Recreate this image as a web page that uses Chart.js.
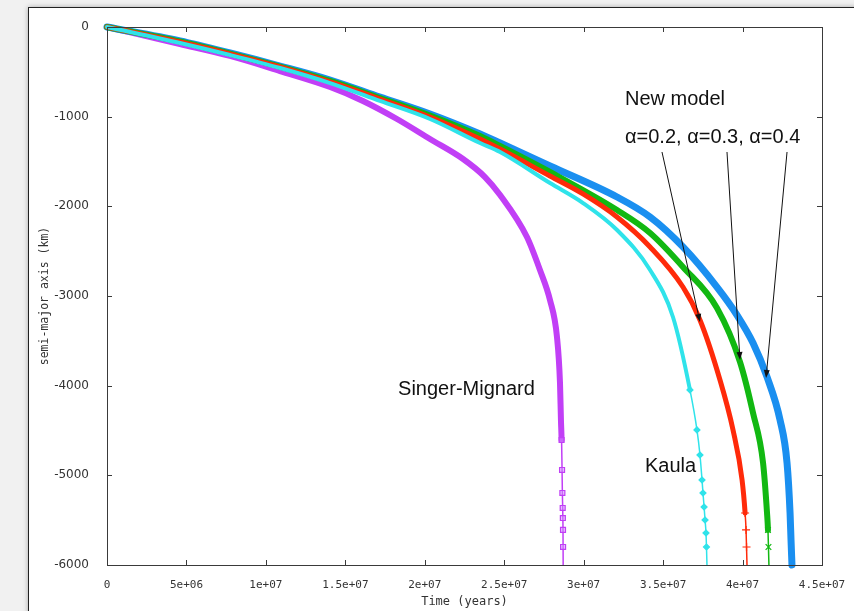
<!DOCTYPE html>
<html><head><meta charset="utf-8">
<script src="https://cdn.jsdelivr.net/npm/chart.js@4.4.0/dist/chart.umd.min.js"></script>
<style>
html,body{margin:0;padding:0;width:854px;height:611px;overflow:hidden;background:#f1f1f1;}
#frame{position:absolute;left:28px;top:7px;width:900px;height:700px;background:#fff;border:1px solid #222;box-shadow:0 0 5px rgba(0,0,0,0.3);}
#wrap{position:absolute;left:0;top:0;width:854px;height:611px;}
</style></head><body>
<div id="frame"></div>
<div id="wrap"><canvas id="c" width="854" height="611"></canvas></div>
<script>
// ---- tick values / labels ----
const xTickValues = [0, 5e6, 1e7, 1.5e7, 2e7, 2.5e7, 3e7, 3.5e7, 4e7, 4.5e7];
const xTickLabels = ['0','5e+06','1e+07','1.5e+07','2e+07','2.5e+07','3e+07','3.5e+07','4e+07','4.5e+07'];
const yTickValues = [0, -1000, -2000, -3000, -4000, -5000, -6000];
const yTickLabels = ['0','-1000','-2000','-3000','-4000','-5000','-6000'];

// ---- series (time in years, semi-major axis change in km) ----
const smT = [0,4.595e6,7.742e6,1.089e7,1.404e7,1.611e7,1.825e7,2.033e7,2.241e7,2.379e7,2.474e7,2.643e7,2.725e7,2.788e7,2.832e7,2.851e7,2.857e7,2.861e7,2.864e7,2.866e7,2.868e7,2.869e7,2.870e7,2.8705e7,2.871e7];
const smA = [0,-190,-323,-491,-669,-825,-1026,-1249,-1472,-1673,-1874,-2342,-2710,-3045,-3457,-3970,-4383,-4606,-4940,-5197,-5364,-5476,-5609,-5799,-6000];

const kaT = [0,4.595e6,7.742e6,1.089e7,1.404e7,1.718e7,2.033e7,2.348e7,2.474e7,2.788e7,2.996e7,3.210e7,3.418e7,3.562e7,3.669e7,3.713e7,3.732e7,3.745e7,3.751e7,3.758e7,3.764e7,3.770e7,3.773e7,3.776e7];
const kaA = [0,-178,-312,-457,-625,-825,-1026,-1294,-1394,-1740,-1963,-2264,-2710,-3234,-4048,-4494,-4773,-5052,-5197,-5353,-5498,-5643,-5799,-6000];

const a2T = [0,4.595e6,7.742e6,1.089e7,1.404e7,1.718e7,2.033e7,2.348e7,2.474e7,2.788e7,2.996e7,3.210e7,3.418e7,3.625e7,3.732e7,3.858e7,3.940e7,3.997e7,4.016e7,4.022e7,4.025e7,4.028e7];
const a2A = [0,-167,-301,-446,-613,-803,-1004,-1249,-1361,-1662,-1862,-2119,-2453,-2900,-3268,-3937,-4494,-5052,-5420,-5609,-5799,-6000];

const a3T = [0,4.595e6,7.742e6,1.089e7,1.404e7,1.718e7,2.033e7,2.348e7,2.474e7,2.788e7,3.210e7,3.418e7,3.625e7,3.839e7,3.984e7,4.066e7,4.129e7,4.154e7,4.160e7,4.163e7,4.166e7];
const a3A = [0,-162,-296,-441,-602,-792,-987,-1216,-1327,-1617,-2041,-2297,-2676,-3134,-3736,-4305,-4862,-5420,-5609,-5799,-6000];

const a4T = [0,4.595e6,7.742e6,1.089e7,1.404e7,1.718e7,2.033e7,2.348e7,2.474e7,2.788e7,3.210e7,3.418e7,3.625e7,3.839e7,3.965e7,4.066e7,4.154e7,4.236e7,4.280e7,4.299e7,4.305e7,4.311e7];
const a4A = [0,-156,-290,-435,-591,-781,-970,-1193,-1294,-1550,-1896,-2119,-2453,-2900,-3212,-3524,-3903,-4383,-4862,-5420,-5721,-6000];

const toXY = (t, a) => t.map((v, i) => ({x: v, y: a[i]}));

// ---- annotations (data coordinates) ----
const notes = [
  {text: 'New model', t: 3.26e7, a: -803},
  {text: 'α=0.2, α=0.3, α=0.4', t: 3.26e7, a: -1227},
  {text: 'Singer-Mignard', t: 1.832e7, a: -4040},
  {text: 'Kaula', t: 3.386e7, a: -4896}
];
const arrows = [
  {t0: 3.493e7, a0: -1394, t1: 3.732e7, a1: -3290},
  {t0: 3.902e7, a0: -1394, t1: 3.984e7, a1: -3714},
  {t0: 4.28e7,  a0: -1394, t1: 4.148e7, a1: -3914}
];

function mk(label, t, a, color, thick, thinBelow, pstyle, pbg, prad) {
  const n = t.length;
  return {
    label, data: toXY(t, a), borderColor: color, backgroundColor: color,
    borderWidth: thick, cubicInterpolationMode: 'monotone', fill: false, clip: 4,
    borderJoinStyle: 'round', borderCapStyle: 'round',
    segment: { borderWidth: ctx => ctx.p0.parsed.y <= thinBelow ? 1.5 : thick },
    pointStyle: pstyle, pointBackgroundColor: pbg, pointBorderColor: color, pointBorderWidth: 1.2,
    pointRadius: ctx => (ctx.raw && ctx.raw.y <= thinBelow && ctx.dataIndex < n - 1) ? prad : 0,
    pointHoverRadius: 0
  };
}

const datasets = [
  mk('Kaula', kaT, kaA, '#2fe3ea', 4, -4000, 'rectRot', '#2fe3ea', 3),
  mk('α=0.2', a2T, a2A, '#ff2a0a', 5, -5350, 'cross', '#ff2a0a', 4),
  mk('α=0.3', a3T, a3A, '#12b812', 6, -5500, 'crossRot', '#12b812', 4),
  mk('α=0.4', a4T, a4A, '#1a8ff0', 7, -99999, 'triangle', '#1a8ff0', 4),
  mk('Singer-Mignard', smT, smA, '#c13ff6', 6, -4550, 'rect', 'rgba(210,140,255,0.5)', 3.5)
];

const decor = {
  id: 'decor',
  afterDatasetsDraw(chart) {
    const {ctx, chartArea: ca, scales: {x, y}} = chart;
    ctx.save();
    ctx.strokeStyle = '#3a3a3a'; ctx.lineWidth = 1;
    ctx.strokeRect(Math.round(ca.left) + 0.5, Math.round(ca.top) + 0.5, Math.round(ca.right - ca.left), Math.round(ca.bottom - ca.top));
    ctx.beginPath();
    const L = 5;
    xTickValues.forEach(v => {
      const px = Math.round(x.getPixelForValue(v)) + 0.5;
      ctx.moveTo(px, ca.bottom); ctx.lineTo(px, ca.bottom - L);
      ctx.moveTo(px, ca.top); ctx.lineTo(px, ca.top + L);
    });
    yTickValues.forEach(v => {
      const py = Math.round(y.getPixelForValue(v)) + 0.5;
      ctx.moveTo(ca.left, py); ctx.lineTo(ca.left + L, py);
      ctx.moveTo(ca.right, py); ctx.lineTo(ca.right - L, py);
    });
    ctx.stroke();
    ctx.strokeStyle = '#111'; ctx.fillStyle = '#111'; ctx.lineWidth = 1;
    arrows.forEach(ar => {
      const x0 = x.getPixelForValue(ar.t0), y0 = y.getPixelForValue(ar.a0);
      const x1 = x.getPixelForValue(ar.t1), y1 = y.getPixelForValue(ar.a1);
      const ang = Math.atan2(y1 - y0, x1 - x0);
      const hl = 8, hw = 3;
      ctx.beginPath(); ctx.moveTo(x0, y0); ctx.lineTo(x1 - hl * Math.cos(ang), y1 - hl * Math.sin(ang)); ctx.stroke();
      ctx.beginPath();
      ctx.moveTo(x1, y1);
      ctx.lineTo(x1 - hl * Math.cos(ang) + hw * Math.sin(ang), y1 - hl * Math.sin(ang) - hw * Math.cos(ang));
      ctx.lineTo(x1 - hl * Math.cos(ang) - hw * Math.sin(ang), y1 - hl * Math.sin(ang) + hw * Math.cos(ang));
      ctx.closePath(); ctx.fill();
    });
    ctx.font = '20px "Liberation Sans", Arial, sans-serif';
    ctx.fillStyle = '#111'; ctx.textAlign = 'left'; ctx.textBaseline = 'middle';
    notes.forEach(n => ctx.fillText(n.text, x.getPixelForValue(n.t), y.getPixelForValue(n.a)));
    ctx.restore();
  }
};

new Chart(document.getElementById('c'), {
  type: 'line',
  data: { datasets },
  options: {
    responsive: false, animation: false, devicePixelRatio: 1,
    layout: { padding: { left: 0, right: 32, top: 27, bottom: 0 } },
    plugins: { legend: { display: false }, tooltip: { enabled: false } },
    scales: {
      x: {
        type: 'linear', min: 0, max: 4.5e7,
        afterBuildTicks: s => { s.ticks = xTickValues.map(v => ({value: v})); },
        afterFit: s => { s.height = 46; },
        grid: { display: false }, border: { display: false },
        ticks: { autoSkip: false, maxRotation: 0, padding: 6, color: '#333',
          font: { family: '"DejaVu Sans Mono", monospace', size: 11 },
          callback: (v, i) => xTickLabels[i] },
        title: { display: true, text: 'Time (years)', color: '#333',
          font: { family: '"DejaVu Sans Mono", monospace', size: 12 }, padding: { top: 0, bottom: 2 } }
      },
      y: {
        type: 'linear', min: -6000, max: 0,
        afterBuildTicks: s => { s.ticks = yTickValues.map(v => ({value: v})); },
        afterFit: s => { s.width = 107; },
        grid: { display: false }, border: { display: false },
        ticks: { autoSkip: false, padding: 10, color: '#333',
          font: { family: '"DejaVu Sans", sans-serif', size: 12 },
          callback: (v, i) => yTickLabels[i] },
        title: { display: true, text: 'semi-major axis (km)', color: '#333',
          font: { family: '"DejaVu Sans Mono", monospace', size: 11.5 }, padding: { top: 38, bottom: 0 } }
      }
    }
  },
  plugins: [decor]
});
</script>
</body></html>
